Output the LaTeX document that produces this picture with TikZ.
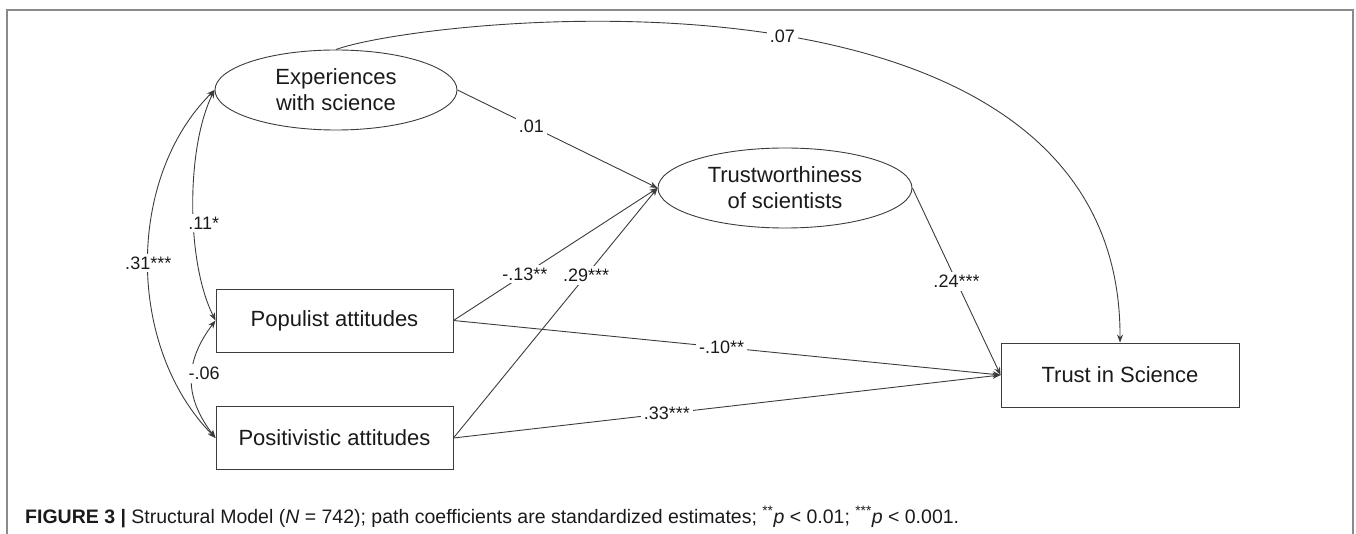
\documentclass[tikz,border=0pt]{standalone}
\usepackage{fontspec}
\setmainfont{Liberation Sans}
\newfontfamily\capfont{Liberation Sans}
\usetikzlibrary{shapes.geometric}
\usetikzlibrary{arrows.meta}

\definecolor{linegray}{HTML}{3C3C3C}
\definecolor{framegray}{HTML}{8A8A8A}
\definecolor{inkblack}{HTML}{1A1A1A}

\tikzset{
  latent/.style={ellipse, draw=linegray, line width=0.9pt, minimum width=242pt, minimum height=80pt,
    inner sep=0pt, align=center, text=inkblack, font=\fontsize{22}{26}\selectfont},
  observed/.style={rectangle, draw=linegray, line width=0.9pt, minimum width=237pt, minimum height=63pt,
    inner sep=0pt, text=inkblack, font=\fontsize{22}{26}\selectfont},
  coef/.style={fill=white, inner sep=3pt, text=inkblack, font=\fontsize{18}{20}\selectfont},
  arr/.style={linegray, line width=0.9pt, -{Stealth[length=8pt,width=6pt]}},
  covar/.style={linegray, line width=0.9pt, {Stealth[length=8pt,width=6pt]}-{Stealth[length=8pt,width=6pt]}}
}

\begin{document}
\begin{tikzpicture}[x=1pt,y=-1pt]
	\useasboundingbox (0,0) rectangle (1356,534);
	\draw[framegray, line width=1.3pt] (7,534) -- (7,10) -- (1353,10) -- (1353,534);
	% nodes
	\node[latent] (exp) at (336,90) {Experiences\\with science};
	\node[latent, minimum width=254pt] (tw) at (785,188) {Trustworthiness\\of scientists};
	\node[observed] (popul) at (334.5,320.5) {Populist attitudes};
	\node[observed] (posit) at (334.5,438) {Positivistic attitudes};
	\node[observed, minimum width=238pt, minimum height=64pt] (tis) at (1120,375) {Trust in Science};
	% paths
	\draw[arr] (exp.north) .. controls (420,18) and (1122,-62) .. node[coef,pos=.52] {.07} (tis.north);
	\draw[arr] (exp.east) -- node[coef,pos=.37] {.01} (tw.west);
	\draw[arr] (popul.east) -- node[coef,pos=.35] {-.13**} (tw.west);
	\draw[arr] (posit.east) -- node[coef,pos=.65] {.29***} (tw.west);
	\draw[arr] (tw.east) -- node[coef,pos=.5] {.24***} (tis.west);
	\draw[arr] (popul.east) -- node[coef,pos=.49] {-.10**} (tis.west);
	\draw[arr] (posit.east) -- node[coef,pos=.39] {.33***} (tis.west);
	% covariances
	\draw[covar] (exp.west) .. controls (126,178) and (126,347) .. node[coef,pos=.5] {.31***} (posit.west);
	\draw[covar] (exp.west) .. controls (186,148) and (186,262) .. node[coef,pos=.57,xshift=10pt] {.11*} (popul.west);
	\draw[covar] (popul.west) .. controls (184,362) and (184,397) .. node[coef,pos=.45,xshift=12pt] {-.06} (posit.west);
	% caption
	\node[anchor=base west, inner sep=0pt, text=inkblack, font=\capfont\fontsize{19.5}{22}\selectfont] (cap) at (25,523)
		{\textbf{FIGURE 3 |} Structural Model (\textit{N} = 742); path coefficients are standardized estimates; \textsuperscript{**}\textit{p} < 0.01; \textsuperscript{***}\textit{p} < 0.001.};
\end{tikzpicture}
\end{document}
